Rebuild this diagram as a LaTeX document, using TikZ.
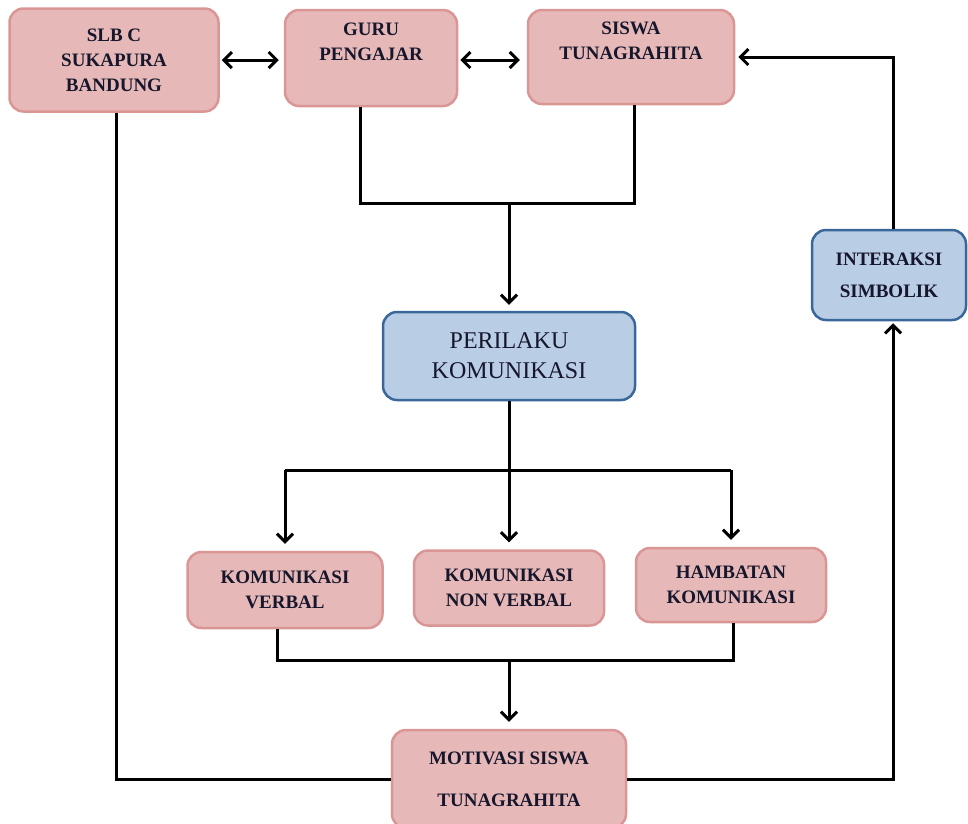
\documentclass[tikz,border=0pt]{standalone}
\usepackage{fontspec}
\setmainfont{Liberation Serif}
\usetikzlibrary{arrows.meta}

\definecolor{pinkfill}{HTML}{E6B9B8}
\definecolor{pinkline}{HTML}{D99694}
\definecolor{bluefill}{HTML}{B9CDE5}
\definecolor{blueline}{HTML}{3A679A}
\definecolor{txtcol}{HTML}{16162C}

\tikzset{
  pinkbox/.style={draw=pinkline, fill=pinkfill, line width=2.5pt, rounded corners=14pt,
    align=center, inner sep=0pt, text=txtcol, font=\fontsize{19}{25}\selectfont\bfseries},
  bluebox/.style={pinkbox, draw=blueline, fill=bluefill, line width=2.5pt},
  conn/.style={line width=3pt, black},
  tip/.style={conn, -{Straight Barb[length=8pt,width=16pt,line width=3pt]}},
  tips/.style={conn, {Straight Barb[length=8pt,width=16pt,line width=3pt]}-{Straight Barb[length=8pt,width=16pt,line width=3pt]}}
}

\begin{document}
\begin{tikzpicture}[x=1pt,y=-1pt]
    \useasboundingbox (0,0) rectangle (968,823);

    % top row
    \node[pinkbox, minimum width=209pt, minimum height=103pt] (slb) at (114,60) {SLB C\\SUKAPURA\\BANDUNG};
    \node[pinkbox, minimum width=172pt, minimum height=96pt] (guru) at (371,58) {GURU\\PENGAJAR\\\strut};
    \node[pinkbox, minimum width=206pt, minimum height=94pt] (siswa) at (631,57) {SISWA\\TUNAGRAHITA\\\strut};

    % blue boxes
    \node[bluebox, minimum width=154pt, minimum height=90pt, font=\fontsize{19}{32}\selectfont\bfseries] (inter) at (889,275) {INTERAKSI\\SIMBOLIK};
    \node[bluebox, minimum width=252pt, minimum height=88pt, font=\fontsize{24}{30}\selectfont] (peri) at (509,356) {PERILAKU\\KOMUNIKASI};

    % bottom row
    \node[pinkbox, minimum width=195pt, minimum height=76pt] (kv) at (285,590) {KOMUNIKASI\\VERBAL};
    \node[pinkbox, minimum width=190pt, minimum height=75pt] (nv) at (509,588) {KOMUNIKASI\\NON VERBAL};
    \node[pinkbox, minimum width=190pt, minimum height=74pt] (hk) at (731,585) {HAMBATAN\\KOMUNIKASI};
    \node[pinkbox, minimum width=234pt, minimum height=98pt, font=\fontsize{19}{42}\selectfont\bfseries] (moti) at (509,779) {MOTIVASI SISWA\\TUNAGRAHITA};

    % split points
    \coordinate (split1) at (509,203);
    \coordinate (split2) at (509,470);
    \coordinate (split3) at (509,660);

    % Connectors
    \draw[tips, shorten <=2pt, shorten >=5pt] (slb.east) -- (guru.west |- slb.east);
    \draw[tips, shorten <=2pt, shorten >=7pt] (guru.east |- slb.east) -- (siswa.west |- slb.east);
    \draw[conn] ([xshift=-11pt]guru.south) |- (split1) -| ([xshift=3pt]siswa.south);
    \draw[tip, shorten >=6pt] (split1) -- (peri.north);

    \draw[conn] (peri.south) -- (split2);
    \draw[conn] (split2 -| kv.north) -- (split2 -| hk.north);
    \draw[tip, shorten >=7pt] (split2 -| kv.north) -- (kv.north);
    \draw[tip, shorten >=7pt] (split2) -- (nv.north);
    \draw[tip, shorten >=7pt] (split2 -| hk.north) -- (hk.north);

    \draw[conn] ([xshift=-8pt]kv.south) |- (split3) -| ([xshift=2pt]hk.south);
    \draw[tip, shorten >=7pt] (split3) -- (moti.north);

    \draw[conn] ([xshift=2pt]slb.south) |- (moti.west);
    \draw[tip, shorten >=2pt] (moti.east) -| ([xshift=4pt]inter.south);
    \draw[tip, shorten >=3pt] ([xshift=4pt]inter.north) |- (siswa.east);

\end{tikzpicture}
\end{document}
